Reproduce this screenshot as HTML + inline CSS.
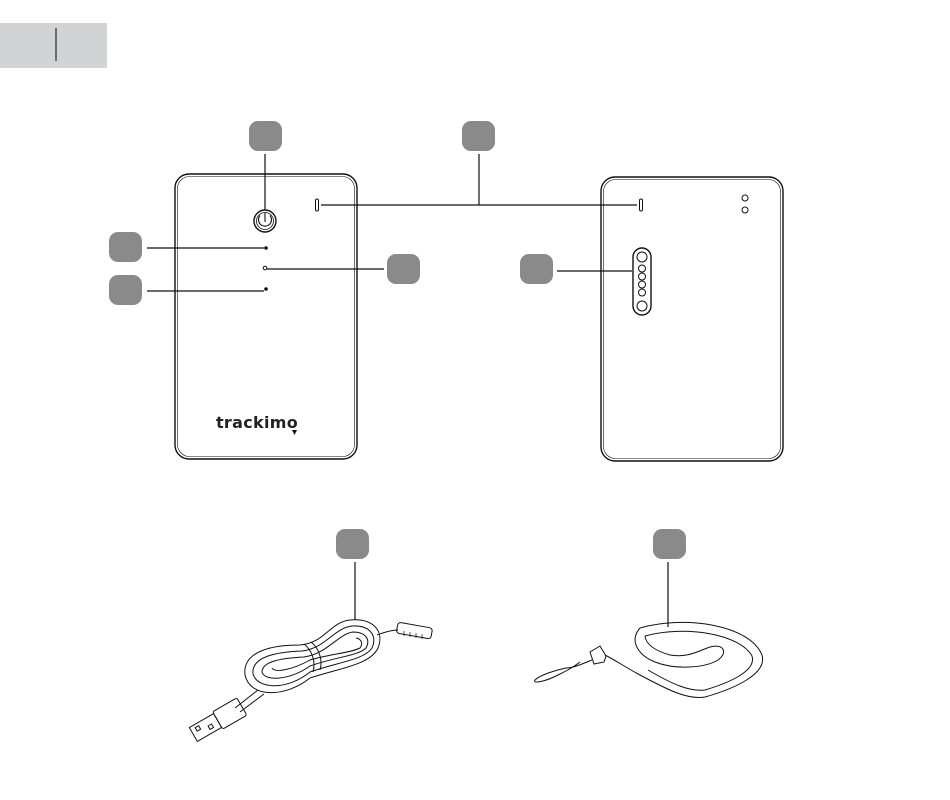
<!DOCTYPE html>
<html><head><meta charset="utf-8"><style>
html,body{margin:0;padding:0;background:#fff;}
svg{display:block}
</style></head><body>
<svg width="950" height="800" viewBox="0 0 950 800" xmlns="http://www.w3.org/2000/svg">
<rect x="0" y="23" width="107" height="45" fill="#d2d3d5"/>
<line x1="56" y1="28" x2="56" y2="61" stroke="#333" stroke-width="1.3"/>
<g fill="#8a8a8a">
<rect x="249" y="121" width="33" height="30" rx="9"/>
<rect x="462" y="121" width="33" height="30" rx="9"/>
<rect x="109" y="232" width="33" height="30" rx="9"/>
<rect x="109" y="275" width="33" height="30" rx="9"/>
<rect x="387" y="254" width="33" height="30" rx="9"/>
<rect x="520" y="254" width="33" height="30" rx="9"/>
<rect x="336" y="529" width="33" height="30" rx="9"/>
<rect x="653" y="529" width="33" height="30" rx="9"/>
</g>
<g fill="none" stroke="#111" stroke-width="1.4">
<rect x="175" y="174" width="182" height="285" rx="14"/>
<rect x="177.5" y="176.5" width="177" height="280" rx="12" stroke-width="0.6"/>
<circle cx="265" cy="221" r="11"/>
<circle cx="265" cy="221" r="8.5" stroke-width="0.8"/>
<path d="M265 213 V222 M260 215.5 A6.5 6.5 0 1 0 270 215.5" stroke-width="1.1"/>
<rect x="315.5" y="199" width="3" height="12" rx="1.5" stroke-width="1"/>
<rect x="601" y="177" width="182" height="284" rx="14"/>
<rect x="603.5" y="179.5" width="177" height="279" rx="12" stroke-width="0.6"/>
<rect x="639.5" y="199" width="3" height="12" rx="1.5" stroke-width="1"/>
<circle cx="745" cy="198" r="3" stroke-width="1"/>
<circle cx="745" cy="210" r="3" stroke-width="1"/>
<rect x="633" y="248" width="18" height="67" rx="9"/>
<circle cx="642" cy="257" r="5" stroke-width="1"/>
<circle cx="642" cy="268.5" r="3.5" stroke-width="1"/>
<circle cx="642" cy="276.5" r="3.5" stroke-width="1"/>
<circle cx="642" cy="284.5" r="3.5" stroke-width="1"/>
<circle cx="642" cy="292.5" r="3.5" stroke-width="1"/>
<circle cx="642" cy="306" r="5" stroke-width="1"/>
<g stroke-width="1.2">
<line x1="265" y1="154" x2="265" y2="210"/>
<line x1="479" y1="154" x2="479" y2="205"/>
<line x1="321" y1="205" x2="637" y2="205"/>
<line x1="147" y1="248" x2="264" y2="248"/>
<line x1="147" y1="291" x2="264" y2="291"/>
<line x1="267" y1="269" x2="384" y2="269"/>
<line x1="557" y1="271" x2="632" y2="271"/>
<line x1="355" y1="562" x2="355" y2="620"/>
<line x1="668" y1="562" x2="668" y2="627"/>
</g>
</g>
<g fill="#111">
<circle cx="266" cy="248" r="1.8"/>
<circle cx="266" cy="289" r="1.8"/>
</g>
<circle cx="265" cy="268" r="1.8" fill="none" stroke="#111" stroke-width="1"/>
<text x="257" y="428" text-anchor="middle" font-family="DejaVu Sans, sans-serif" font-size="16" font-weight="bold" letter-spacing="0.3" fill="#222">trackimo</text>
<path d="M292 430 l5 0 l-2.5 5 z" fill="#111"/>
<!-- cable -->
<g fill="none" stroke="#111" stroke-width="1">
<path d="M350 620 C372 618 385 630 378 648 C370 665 340 668 310 678 C285 698 250 698 245 675 C242 650 275 645 300 645 C325 643 330 622 350 620 Z"/>
<path d="M352 626 C368 625 378 634 372 648 C364 660 338 662 310 672 C288 690 258 690 253 674 C251 656 278 652 302 651 C326 648 334 628 352 626 Z"/>
<path d="M353 632 C365 632 371 639 366 648 C358 656 335 657 310 666 C290 680 265 682 262 672 C262 661 283 658 304 657 C327 654 338 634 353 632 Z"/>
<path d="M356 638 C362 639 363 644 360 648 C350 653 330 654 310 660 C292 670 275 673 272 668"/>
<path d="M304 644 C312 650 316 662 313 672 M311 642 C319 648 323 660 320 670"/>
<path d="M377 635 C385 632 392 630 398 630"/>
<rect x="397" y="625" width="35" height="11" rx="3" transform="rotate(10 414 630)"/>
<path d="M404 631 v5 M410 632 v5 M416 633 v5 M422 634 v5" stroke-width="0.7"/>
<path d="M258 690 L235 708 M264 694 L240 712"/>
<g transform="rotate(-30 215 722)">
<rect x="218" y="712" width="28" height="20" rx="2"/>
<rect x="190" y="714" width="28" height="16"/>
<rect x="195" y="717" width="4" height="4"/><rect x="207" y="722" width="4" height="4"/>
</g>
<!-- lanyard -->
<path d="M640 628 C685 615 750 625 762 655 C768 675 730 690 705 697 C688 700 668 690 640 675 C625 667 615 660 605 655"/>
<path d="M645 636 C685 625 740 634 752 656 C757 672 725 684 705 690 C690 692 672 684 648 670"/>
<path d="M640 628 C628 642 640 656 655 662 C675 670 705 668 718 660 C728 653 724 643 710 647 C698 651 688 658 670 655 C656 651 646 645 645 636"/>
<path d="M606 656 L600 646 L590 652 L594 664 L604 662 Z"/>
<path d="M592 660 C580 665 572 668 566 668 C556 670 540 675 535 680 C532 684 545 682 560 674 C568 670 572 668 580 662"/>
</g>
</svg>
</body></html>
